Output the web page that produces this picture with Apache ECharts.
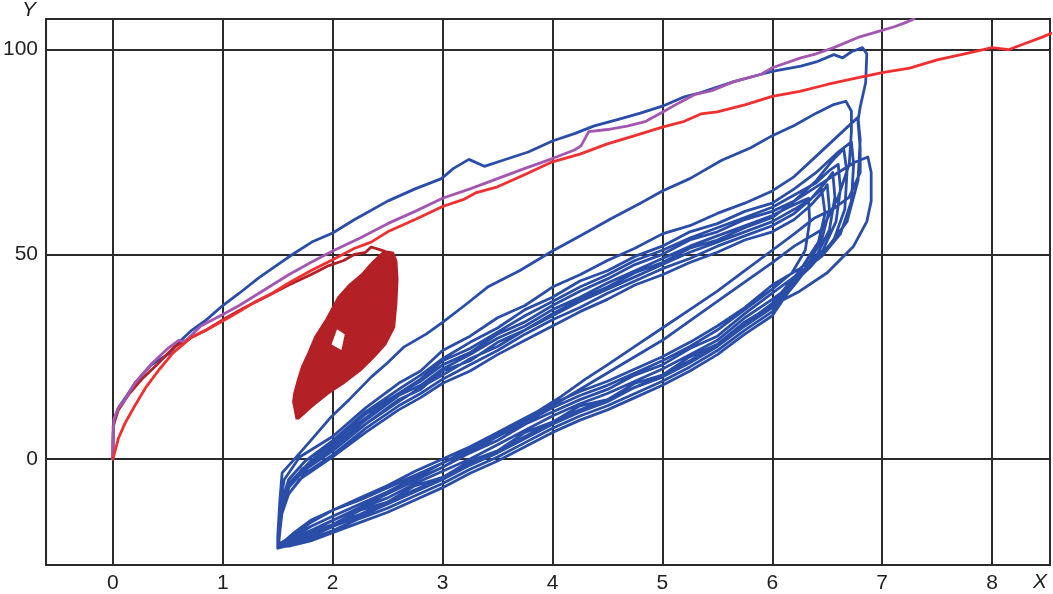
<!DOCTYPE html>
<html>
<head>
<meta charset="utf-8">
<script src="https://cdn.jsdelivr.net/npm/echarts@6/dist/echarts.min.js"></script>
<style>
html,body{margin:0;padding:0;background:#fff;}
#chart{width:1053px;height:594px;}
</style>
</head>
<body>
<div id="chart"></div>
<script>
// ---- Data ----
const xTickLabels = [0,1,2,3,4,5,6,7,8];
const yTickLabels = [0,50,100];

const redCurve = [[0,0],[0.02,2],[0.05,5],[0.11,8.7],[0.2,13],[0.3,17.5],[0.42,21.8],[0.55,26],[0.72,29.8],[0.85,31.5],[1.0,33.7],[1.15,36],[1.3,38.5],[1.45,40.5],[1.6,43],[1.8,46],[2.0,48.7],[2.2,51.5],[2.35,53],[2.5,55.5],[2.75,58.5],[3.0,61.7],[3.2,63.5],[3.3,65],[3.5,66.5],[3.75,69.5],[4.0,72.6],[4.25,74.5],[4.5,77],[4.75,79],[5.0,81.1],[5.2,82.5],[5.35,84.3],[5.5,84.8],[5.75,86.5],[6.0,88.6],[6.25,89.8],[6.5,91.5],[6.75,93],[7.0,94.4],[7.25,95.5],[7.5,97.5],[7.75,99],[8.0,100.5],[8.15,100],[8.3,101.5],[8.45,103],[8.54,104]];

const purpleCurve = [[0,0],[0.003,6],[0.01,9.7],[0.05,12.5],[0.11,14.5],[0.2,18.5],[0.35,23.2],[0.5,27],[0.6,29],[0.65,28.5],[0.8,32.5],[1.0,35.3],[1.15,37.5],[1.3,40],[1.6,45],[1.8,48],[2.0,50.8],[2.25,54],[2.5,57.5],[2.75,60.5],[3.0,63.7],[3.25,66],[3.5,68.5],[3.75,71],[4.0,73.4],[4.2,75.5],[4.26,76.5],[4.33,80],[4.5,80.5],[4.69,81.4],[4.85,82.5],[5.0,84.7],[5.15,87],[5.29,89],[5.45,90],[5.65,92.2],[5.9,94],[6.0,95.6],[6.26,98],[6.4,99],[6.56,100.5],[6.78,103],[6.96,104.4],[7.11,105.6],[7.2,106.5],[7.29,107.5]];

const darkRedCurve = [[0,0],[0.003,8],[0.05,12],[0.15,16],[0.26,19.4],[0.4,23],[0.56,27.4],[0.7,29.5],[0.85,31.5],[1.0,34],[1.2,37],[1.35,39],[1.6,42.5],[1.8,45],[1.96,47.2],[2.1,48.5],[2.2,50],[2.3,50.5],[2.35,51.8],[2.42,51.2],[2.47,50.8]];

const darkRedBlob = [[1.67,9.9],[1.64,14],[1.65,16],[1.68,19],[1.72,22.5],[1.78,26],[1.84,29.8],[1.94,34],[2.05,39.5],[2.15,42.5],[2.26,45],[2.36,48],[2.47,50.8],[2.55,50.4],[2.58,48.4],[2.59,44],[2.58,38],[2.56,32.2],[2.48,28],[2.38,25],[2.26,21.8],[2.1,18.5],[1.96,16],[1.82,13],[1.69,9.9]];
const darkRedHole = [[1.99,28],[2.04,31.7],[2.11,30.5],[2.08,26.6]];

const blueLoading = [[0,0],[0.003,6],[0.01,9.5],[0.05,12.5],[0.11,14.8],[0.2,18.5],[0.35,23],[0.51,25.7],[0.62,29],[0.72,31.5],[0.85,34],[1.0,37.5],[1.15,40.5],[1.33,44.3],[1.5,47.5],[1.63,49.9],[1.81,53],[2.0,55.2],[2.2,58.5],[2.5,63],[2.75,66],[2.99,68.5],[3.1,71],[3.24,73.2],[3.38,71.5],[3.55,73],[3.78,75],[4.0,77.7],[4.2,79.5],[4.38,81.4],[4.6,83],[4.8,84.5],[5.0,86.2],[5.2,88.5],[5.35,89.5],[5.65,92.2],[5.9,94],[6.0,94.7],[6.26,96],[6.4,97],[6.56,98.8],[6.64,98],[6.72,99.5],[6.82,100.5]];
const blueUnloading = [[6.86,99],[6.85,92],[6.8,86],[6.78,82.5],[6.8,76],[6.8,70],[6.7,64],[6.55,61],[6.38,58.8],[6.2,55],[6.0,51],[5.75,46],[5.5,41],[5.25,36.5],[5.0,32],[4.75,27.5],[4.5,23],[4.3,19.5],[4.08,15.3],[3.8,10.5],[3.5,6],[3.25,2.5],[3.0,-1],[2.75,-4.5],[2.5,-8],[2.25,-11],[2.0,-14],[1.8,-16.5],[1.7,-18],[1.6,-19.5],[1.52,-21]];
const blueLoop1 = [[1.5,-19],[1.52,-10],[1.54,-3.4],[1.66,0.2],[1.8,4.5],[1.99,10.4],[2.15,14.5],[2.35,20],[2.5,23.5],[2.65,27.4],[2.85,30.5],[3.0,33.4],[3.2,37.5],[3.41,42],[3.7,46],[4.0,50.8],[4.25,54.5],[4.54,58.8],[4.8,62.5],[5.0,65.5],[5.25,68.5],[5.54,73],[5.8,76],[6.0,79],[6.2,81.5],[6.4,84.5],[6.55,86.5],[6.67,87.4],[6.72,85],[6.72,80],[6.7,72],[6.6,64],[6.45,56],[6.2,52],[6.0,48],[5.5,38.5],[5.0,29],[4.5,21],[4.0,13],[3.5,5.5],[3.0,-2],[2.5,-8.5],[2.0,-15],[1.7,-19],[1.52,-21.5]];
const blueLoop2 = [[1.5,-19],[1.52,-11],[1.56,-5],[1.7,0.5],[2.0,5.5],[2.3,12.5],[2.6,18.5],[2.8,21.5],[3.0,26.5],[3.25,30],[3.5,34.5],[3.75,37.5],[4.0,42],[4.25,45],[4.5,48.5],[4.75,51.5],[5.0,55],[5.25,57],[5.5,60],[5.75,62.5],[6.0,65.5],[6.2,69],[6.4,74],[6.6,79],[6.72,82],[6.78,83.5],[6.8,78],[6.78,68],[6.68,58],[6.5,51.5],[6.25,46.5],[6.0,42.5],[5.75,37],[5.5,32.5],[5.25,28.5],[5.0,25],[4.75,22],[4.5,19],[4.25,16.5],[4.0,13.5],[3.75,10],[3.5,6.5],[3.25,3],[3.0,0],[2.75,-3],[2.5,-6.5],[2.25,-9.5],[2.0,-12.5],[1.8,-15],[1.65,-18],[1.52,-21]];
const blueLoop3 = [[1.5,-19.5],[1.53,-11],[1.6,-5],[1.75,-0.5],[2.0,4.5],[2.3,11.5],[2.6,17],[2.8,20.5],[3.0,24.5],[3.25,28.5],[3.5,32],[3.75,36.5],[4.0,39.5],[4.25,43.5],[4.5,46],[4.75,49.5],[5.0,52],[5.25,55.5],[5.5,57.5],[5.75,60.5],[6.0,62.5],[6.2,66],[6.4,70],[6.6,75],[6.72,77.5],[6.74,72],[6.72,63],[6.62,55],[6.45,49.5],[6.2,44.5],[6.0,40.5],[5.75,35.5],[5.5,30],[5.25,27],[5.0,23],[4.75,20.5],[4.5,17],[4.25,14.5],[4.0,11.5],[3.75,8.5],[3.5,4.5],[3.25,1.5],[3.0,-2],[2.75,-5],[2.5,-8.5],[2.25,-11],[2.0,-14],[1.8,-16.5],[1.65,-19],[1.51,-21.5]];
const blueLoop4 = [[1.51,-20],[1.54,-13],[1.6,-7],[1.78,-1.5],[2.0,3.5],[2.3,10],[2.6,16],[2.8,19],[3.0,23],[3.25,26],[3.5,30.5],[3.75,33.5],[4.0,37.5],[4.25,41],[4.5,44],[4.75,47.5],[5.0,50],[5.25,53.5],[5.5,55.5],[5.75,58.5],[6.0,60.5],[6.2,63],[6.4,66.5],[6.6,70],[6.75,72.5],[6.87,73.8],[6.9,70],[6.9,63],[6.86,58],[6.74,52],[6.5,45.5],[6.25,41],[6.0,37.5],[5.75,33.5],[5.5,28],[5.25,25],[5.0,20.5],[4.75,18.5],[4.5,14.5],[4.25,13],[4.0,9],[3.75,6.5],[3.5,2],[3.25,-0.5],[3.0,-4.5],[2.75,-6.5],[2.5,-10.5],[2.25,-12.5],[2.0,-16],[1.8,-18],[1.65,-20],[1.5,-21.8]];
const blueLoop5 = [[1.5,-21],[1.52,-14],[1.57,-8],[1.7,-3.5],[2.0,2],[2.3,8.5],[2.6,14.5],[2.8,17],[3.0,21.5],[3.25,24],[3.5,28.5],[3.75,31.5],[4.0,35.5],[4.25,39],[4.5,42],[4.75,45.5],[5.0,48],[5.25,51.5],[5.5,53.5],[5.75,56.5],[6.0,59],[6.2,63],[6.4,68],[6.55,73],[6.65,75.8],[6.68,70],[6.66,61],[6.56,53.5],[6.35,47],[6.15,42],[6.0,39],[5.75,34.5],[5.5,29],[5.25,25.5],[5.0,22],[4.75,19],[4.5,16],[4.25,13.5],[4.0,10.5],[3.75,7],[3.5,3.5],[3.25,0],[3.0,-3],[2.75,-6],[2.5,-9.5],[2.25,-12],[2.0,-15],[1.8,-17.5],[1.62,-19.8],[1.5,-21.2]];
const blueLoop6 = [[1.51,-20.5],[1.54,-12],[1.62,-5.5],[1.8,-0.5],[2.0,4],[2.3,11],[2.6,16],[2.8,19.5],[3.0,24],[3.25,27],[3.5,31],[3.75,35],[4.0,38.5],[4.25,42],[4.5,45],[4.75,48.5],[5.0,51],[5.25,54],[5.5,56.5],[5.75,59],[6.0,61.5],[6.2,64.5],[6.4,67.5],[6.52,70.5],[6.6,72],[6.62,66],[6.58,58],[6.46,51],[6.25,45],[6.0,37],[5.75,32.5],[5.5,27.5],[5.25,23.5],[5.0,20],[4.75,17.5],[4.5,14],[4.25,11.5],[4.0,8.5],[3.75,5],[3.5,1.5],[3.25,-1.5],[3.0,-5],[2.75,-8],[2.5,-11],[2.25,-14],[2.0,-16.5],[1.8,-19],[1.65,-20.5],[1.5,-21.5]];
const blueLoop7 = [[1.5,-21],[1.53,-14],[1.6,-8.5],[1.75,-3.5],[2.0,1],[2.3,7.5],[2.6,13],[2.8,16],[3.0,19.5],[3.25,23],[3.5,26.5],[3.75,30.5],[4.0,34],[4.25,37],[4.5,40.5],[4.75,43.5],[5.0,46.5],[5.25,49],[5.5,52],[5.75,54.5],[6.0,57],[6.2,60],[6.35,63.5],[6.48,67.5],[6.55,70],[6.57,64],[6.52,56],[6.4,49.5],[6.2,42.5],[6.0,36],[5.75,31.5],[5.5,26.5],[5.25,22.5],[5.0,19],[4.75,16],[4.5,13],[4.25,10.5],[4.0,7.5],[3.75,4],[3.5,0.5],[3.25,-2.5],[3.0,-6],[2.75,-9],[2.5,-12],[2.25,-14.5],[2.0,-17.5],[1.8,-19.5],[1.62,-21],[1.5,-21.8]];
const blueLoop8 = [[1.5,-21.5],[1.52,-16],[1.56,-10],[1.7,-5],[2.0,0.5],[2.3,6.5],[2.6,12],[2.8,15],[3.0,18.5],[3.25,21.5],[3.5,25.5],[3.75,29],[4.0,32.5],[4.25,36],[4.5,39],[4.75,42.5],[5.0,45],[5.25,48],[5.5,50.5],[5.75,53.5],[6.0,55.5],[6.2,58.5],[6.35,62],[6.45,65],[6.5,67],[6.52,61],[6.45,53.5],[6.3,46.5],[6.1,39],[6.0,35],[5.75,30.5],[5.5,25.5],[5.25,21.5],[5.0,18],[4.75,15],[4.5,12],[4.25,9.5],[4.0,6.5],[3.75,3],[3.5,-0.5],[3.25,-3.5],[3.0,-7],[2.75,-10],[2.5,-13],[2.25,-15.5],[2.0,-18],[1.8,-20],[1.62,-21.2],[1.5,-21.5]];
const blueLoop9 = [[1.5,-21],[1.53,-12],[1.6,-6.5],[1.8,-1.5],[2.0,3],[2.3,9.5],[2.6,15.5],[2.8,18],[3.0,22],[3.25,25.5],[3.5,29.5],[3.75,32.5],[4.0,36.5],[4.25,39.5],[4.5,43],[4.75,46],[5.0,49],[5.25,52],[5.5,54.5],[5.75,57],[6.0,59.5],[6.15,61.5],[6.27,63],[6.33,63.7],[6.34,58],[6.3,51],[6.18,45.5],[6.0,41.5],[5.75,36.5],[5.5,31.5],[5.25,27.5],[5.0,24],[4.75,21],[4.5,18],[4.25,15.5],[4.0,12.5],[3.75,9],[3.5,5.5],[3.25,2],[3.0,-1],[2.75,-4],[2.5,-7],[2.25,-10],[2.0,-12.5],[1.8,-15.5],[1.65,-18.5],[1.5,-21]];
const blueLoop10 = [[1.5,-20],[1.52,-13],[1.58,-7.5],[1.72,-2.5],[2.0,2.5],[2.3,8.5],[2.6,14],[2.8,17.5],[3.0,20.5],[3.25,24.5],[3.5,27.5],[3.75,31.5],[4.0,35],[4.25,38.5],[4.5,41.5],[4.75,44.5],[5.0,47.5],[5.25,50.5],[5.5,53],[5.75,55.5],[6.0,58],[6.2,61],[6.35,63.5],[6.45,66],[6.48,60],[6.42,53],[6.25,46],[6.0,38],[5.75,33],[5.5,28],[5.25,24],[5.0,20.5],[4.75,17.5],[4.5,14.5],[4.25,12],[4.0,9],[3.75,5.5],[3.5,2],[3.25,-1],[3.0,-4.5],[2.75,-7.5],[2.5,-10.5],[2.25,-13.5],[2.0,-16],[1.8,-18.5],[1.65,-20],[1.5,-21.5]];

const bluePath = [].concat(blueLoading, blueUnloading, blueLoop1, blueLoop2, blueLoop3, blueLoop4, blueLoop5, blueLoop6, blueLoop7, blueLoop8, blueLoop9, blueLoop10);

// ---- Chart ----
const chart = echarts.init(document.getElementById('chart'), null, {renderer: 'canvas'});

function polygonSeries(points, fill, stroke, z) {
  return {
    type: 'custom',
    z: z,
    silent: true,
    data: [0],
    renderItem: function (params, api) {
      const pts = points.map(function (p) { return api.coord(p); });
      return {
        type: 'polygon',
        shape: { points: pts },
        style: { fill: fill, stroke: stroke, lineWidth: stroke ? 2 : 0 }
      };
    }
  };
}

function lineSeries(data, color, z) {
  return {
    type: 'line',
    data: data,
    z: z,
    symbol: 'none',
    showSymbol: false,
    smooth: false,
    silent: true,
    lineStyle: { color: color, width: 2.8, join: 'round', cap: 'round' }
  };
}

const labelFont = { fontFamily: 'Liberation Sans', fontSize: 21, color: '#1f1f1f' };

chart.setOption({
  animation: false,
  backgroundColor: '#ffffff',
  grid: { left: 44, right: 3, top: 19, bottom: 24, show: true, borderColor: '#2b2b2b', borderWidth: 2, backgroundColor: 'transparent' },
  xAxis: {
    type: 'value', min: -0.608, max: 8.527, splitNumber: 9,
    axisLine: { show: false }, axisTick: { show: false },
    splitLine: { show: true, lineStyle: { color: '#2b2b2b', width: 2 } },
    axisLabel: Object.assign({ margin: 8, showMinLabel: false, showMaxLabel: false,
      formatter: function (v) { return xTickLabels.indexOf(v) >= 0 ? String(v) : ''; } }, labelFont)
  },
  yAxis: {
    type: 'value', min: -25.9, max: 107.5, splitNumber: 3,
    axisLine: { show: false }, axisTick: { show: false },
    splitLine: { show: true, lineStyle: { color: '#2b2b2b', width: 2 } },
    axisLabel: Object.assign({ margin: 8, showMinLabel: false, showMaxLabel: false,
      formatter: function (v) { return yTickLabels.indexOf(v) >= 0 ? String(v) : ''; } }, labelFont)
  },
  graphic: [
    { type: 'text', left: 22, top: 0, style: { text: 'Y', font: 'italic 21px "Liberation Sans"', fill: '#1f1f1f' } },
    { type: 'text', right: 6, bottom: 1, style: { text: 'X', font: 'italic 21px "Liberation Sans"', fill: '#1f1f1f' } }
  ],
  series: [
    lineSeries(bluePath, '#2a4ea8', 2),
    polygonSeries(darkRedBlob, '#b32025', '#b32025', 3),
    polygonSeries(darkRedHole, '#ffffff', null, 4),
    lineSeries(darkRedCurve, '#b32025', 5),
    lineSeries(purpleCurve, '#a457b0', 6),
    lineSeries(redCurve, '#f03030', 7)
  ]
});
</script>
</body>
</html>
